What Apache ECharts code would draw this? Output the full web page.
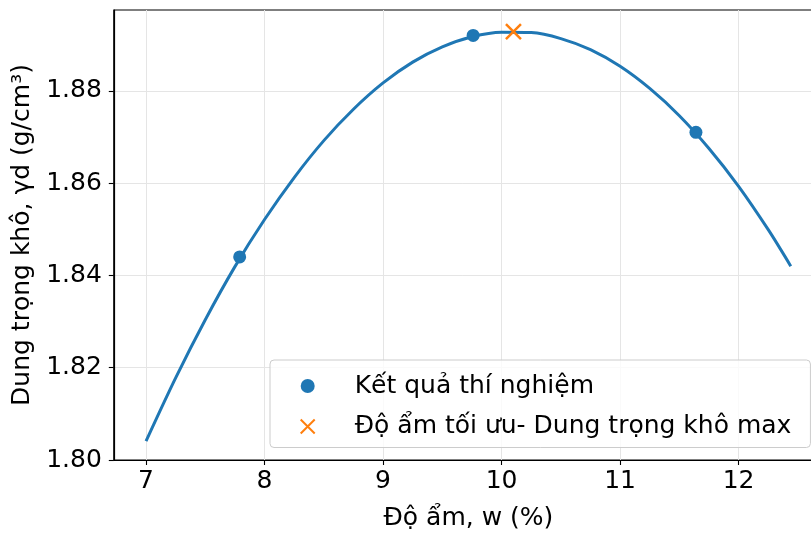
<!DOCTYPE html>
<html>
<head>
<meta charset="utf-8">
<script src="https://cdn.jsdelivr.net/npm/echarts@6/dist/echarts.min.js"></script>
<style>
  html, body { margin: 0; padding: 0; background: #fff; }
  #chart { width: 811px; height: 533px; }
</style>
</head>
<body>
<div id="chart"></div>
<script>
// duong cong dam nen, doc tu hinh
var curveX = [7.0, 7.25, 7.5, 7.75, 8.0, 8.25, 8.5, 8.75, 9.0, 9.25, 9.5, 9.75,
              10.0, 10.25, 10.5, 10.75, 11.0, 11.25, 11.5, 11.75, 12.0, 12.25, 12.44];
var curveY = [1.8041, 1.8178, 1.8304, 1.8419, 1.8521, 1.8612, 1.8692, 1.8760, 1.8817, 1.8862, 1.8895, 1.8917,
              1.8927, 1.8926, 1.8913, 1.8889, 1.8853, 1.8805, 1.8746, 1.8675, 1.8593, 1.8499, 1.8420];

// ket qua thi nghiem
var expX = [7.79, 9.76, 11.64];
var expY = [1.844, 1.892, 1.871];

// do am toi uu - dung trong kho max
var optX = [10.10];
var optY = [1.8928];

var xTicks = [7, 8, 9, 10, 11, 12];
var yTicks = [1.80, 1.82, 1.84, 1.86, 1.88];

var seriesNames = ['Kết quả thí nghiệm', 'Độ ẩm tối ưu- Dung trọng khô max'];

var font = 'DejaVu Sans';
var crossPath = 'path://M0,0L10,10M10,0L0,10';

var myChart = echarts.init(document.getElementById('chart'));

function pairs(xs, ys) {
    var out = [];
    for (var i = 0; i < xs.length; i++) out.push([xs[i], ys[i]]);
    return out;
}

var option = {
    animation: false,
    backgroundColor: '#fff',
    grid: {
        left: 113.8,
        top: 10,
        width: 709.2,   // khung ve ra ngoai mep phai cua anh
        bottom: 73,
        outerBoundsMode: 'none',
        containLabel: false,
        show: true,
        borderColor: '#000',
        borderWidth: 1.2,
        backgroundColor: 'transparent'
    },
    legend: {
        left: 270,
        top: 360,
        orient: 'vertical',
        data: [
            { name: seriesNames[0], icon: 'circle' },
            { name: seriesNames[1], icon: crossPath }
        ],
        itemWidth: 14,
        itemHeight: 14,
        itemGap: 15.5,
        padding: [13.5, 19, 8.5, 29.7],
        backgroundColor: 'rgba(255,255,255,0.8)',
        borderColor: '#cccccc',
        borderWidth: 1,
        borderRadius: 4,
        formatter: function (name) { return '{t|' + name + '}'; },
        textStyle: {
            rich: {
                t: { fontFamily: font, fontSize: 25, color: '#000', padding: [0, 0, 0, 35] }
            }
        }
    },
    xAxis: {
        type: 'value',
        min: 6.728,
        max: 12.712,
        name: 'Độ ẩm, w (%)',
        nameLocation: 'middle',
        nameGap: 46,
        nameTextStyle: { fontFamily: font, fontSize: 25, color: '#000' },
        axisLine: { show: true, onZero: false, lineStyle: { color: '#000', width: 1.2 } },
        axisTick: { show: true, length: 5, lineStyle: { color: '#000', width: 1.1 }, customValues: xTicks },
        axisLabel: {
            fontFamily: font, fontSize: 25, color: '#000', margin: 9,
            customValues: xTicks,
            formatter: function (v) { return String(v); }
        },
        splitLine: { show: true, lineStyle: { color: '#e5e5e5', width: 1 } }
    },
    yAxis: {
        type: 'value',
        min: 1.80,
        max: 1.8975,
        name: 'Dung trọng khô, γd (g/cm³)',
        nameLocation: 'middle',
        nameGap: 78,
        nameTextStyle: { fontFamily: font, fontSize: 25, color: '#000' },
        axisLine: { show: true, onZero: false, lineStyle: { color: '#000', width: 1.2 } },
        axisTick: { show: true, length: 5, lineStyle: { color: '#000', width: 1.1 }, customValues: yTicks },
        axisLabel: {
            fontFamily: font, fontSize: 25, color: '#000', margin: 12,
            customValues: yTicks,
            formatter: function (v) { return v.toFixed(2); }
        },
        splitLine: { show: true, lineStyle: { color: '#e5e5e5', width: 1 } }
    },
    series: [
        {
            name: 'curve',
            type: 'line',
            data: pairs(curveX, curveY),
            showSymbol: false,
            symbol: 'none',
            smooth: 0.3,
            lineStyle: { color: '#1f77b4', width: 3 },
            z: 2
        },
        {
            name: seriesNames[0],
            type: 'scatter',
            data: pairs(expX, expY),
            symbol: 'circle',
            symbolSize: 13,
            itemStyle: { color: '#1f77b4', opacity: 1 },
            z: 3
        },
        {
            name: seriesNames[1],
            type: 'scatter',
            data: pairs(optX, optY),
            symbol: crossPath,
            symbolSize: 15,
            itemStyle: { color: '#ff7f0e', borderColor: '#ff7f0e', borderWidth: 2.5, opacity: 1 },
            z: 4
        }
    ]
};

myChart.setOption(option);
</script>
</body>
</html>
